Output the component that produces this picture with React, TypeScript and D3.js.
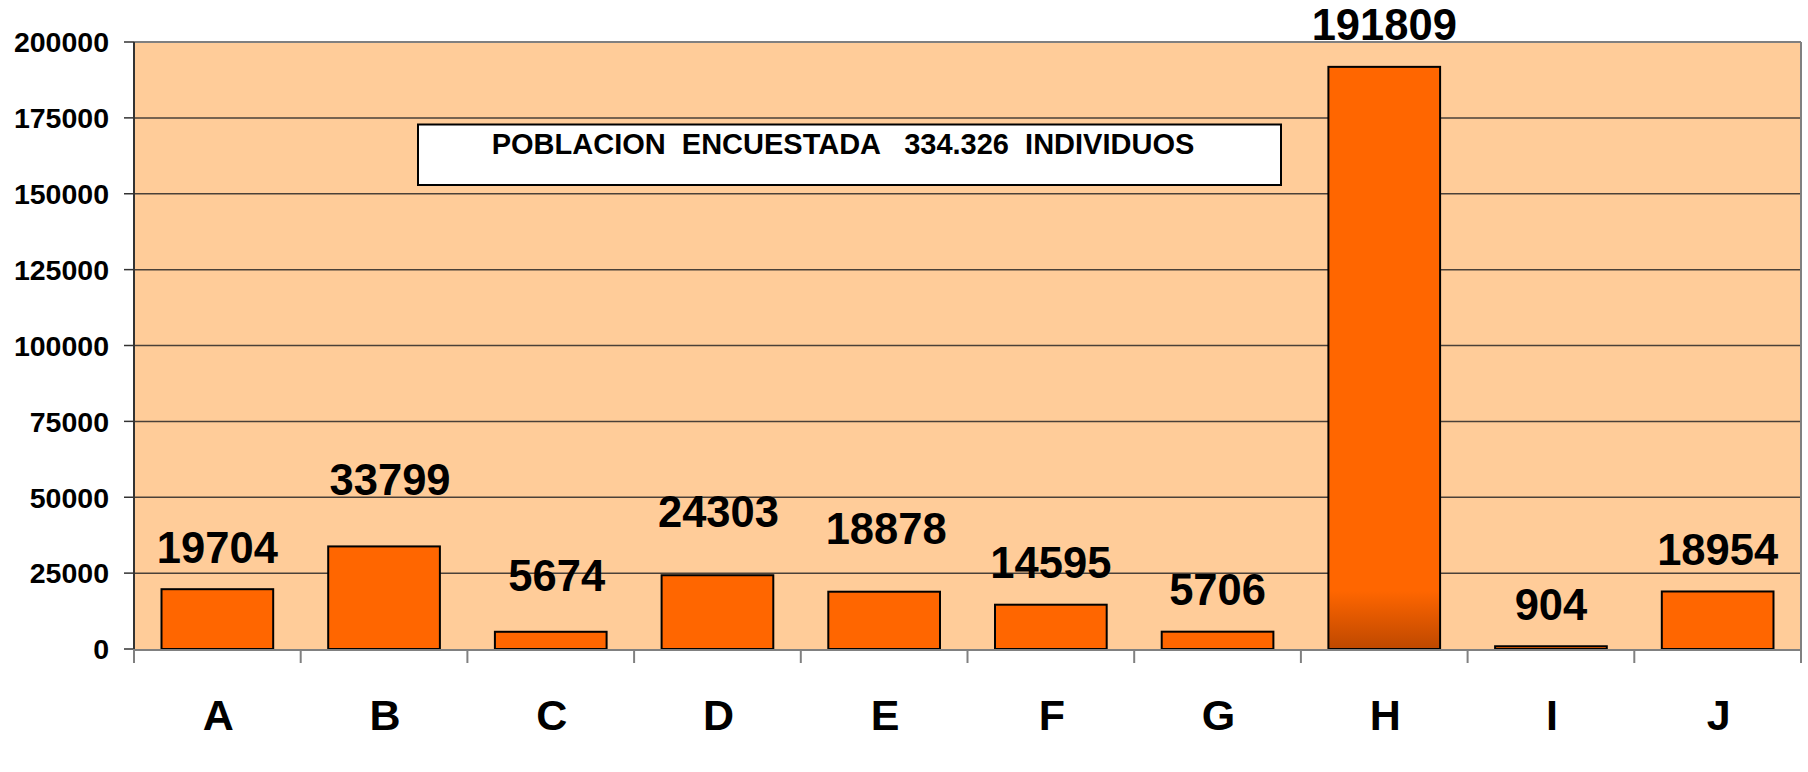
import React from "react";
import * as d3 from "d3";

const categories = ["A", "B", "C", "D", "E", "F", "G", "H", "I", "J"];
const values = [19704, 33799, 5674, 24303, 18878, 14595, 5706, 191809, 904, 18954];
const yTicks = [0, 25000, 50000, 75000, 100000, 125000, 150000, 175000, 200000];
const boxText = "POBLACION  ENCUESTADA   334.326  INDIVIDUOS";
// manual label nudges (px) as placed in the original chart
const labelNudgeX = [0, 6, 6, 1, 2, 0, 0, 0, 0, 0];
const labelNudgeY = [0, -25, -14, -22, -21, 0, 0, 0, 0, 0];

const W = 1808;
const H = 772;
const left = 134;
const right = 1801;
const top = 42;
const bottom = 649;
const font = "'Liberation Sans', Arial, sans-serif";

export default function App() {
  const x = d3.scaleBand<string>().domain(categories).range([left, right]).paddingInner(0.33).paddingOuter(0.165);
  const xb = d3.scaleBand<string>().domain(categories).range([left, right]);
  const y = d3.scaleLinear().domain([0, 200000]).range([bottom, top]);

  return (
    <svg width={W} height={H} style={{ position: "absolute", left: 0, top: 0 }} fontFamily={font}>
      <defs>
        <linearGradient id="hgrad" x1="0" y1="0" x2="0" y2="1">
          <stop offset="0" stopColor="#FF6600" />
          <stop offset="0.9" stopColor="#FF6600" />
          <stop offset="1" stopColor="#BE4800" />
        </linearGradient>
      </defs>
      <rect x={0} y={0} width={W} height={H} fill="#fff" />
      <rect x={left} y={top} width={right - left} height={bottom - top} fill="#FFCC99" />
      {yTicks.slice(1, -1).map((t) => (
        <line key={t} x1={left} x2={right} y1={y(t)} y2={y(t)} stroke="#4a4038" strokeWidth={1.5} />
      ))}
      {/* plot border */}
      <line x1={left} x2={right} y1={top} y2={top} stroke="#808080" strokeWidth={2} />
      <line x1={right} x2={right} y1={top} y2={bottom} stroke="#808080" strokeWidth={2} />
      {/* y ticks & labels */}
      {yTicks.map((t) => (
        <g key={t}>
          <line x1={124} x2={left} y1={y(t)} y2={y(t)} stroke="#333" strokeWidth={1.5} />
          <text x={109} y={y(t)} dy="0.36em" textAnchor="end" fontSize={28.5} fontWeight="bold">
            {t}
          </text>
        </g>
      ))}
      {/* bars */}
      {categories.map((c, i) => (
        <rect
          key={c}
          x={x(c)!}
          width={x.bandwidth()}
          y={y(values[i])}
          height={bottom - y(values[i])}
          fill={c === "H" ? "url(#hgrad)" : "#FF6600"}
          stroke="#000"
          strokeWidth={2}
        />
      ))}
      {/* axes lines */}
      <line x1={left} x2={left} y1={top} y2={bottom + 1} stroke="#333" strokeWidth={2} />
      <line x1={left} x2={right} y1={bottom + 1} y2={bottom + 1} stroke="#808080" strokeWidth={2} />
      {[...categories, "_end"].map((c, i) => (
        <line
          key={c}
          x1={left + i * xb.bandwidth()}
          x2={left + i * xb.bandwidth()}
          y1={bottom}
          y2={663}
          stroke="#808080"
          strokeWidth={2}
        />
      ))}
      {/* category labels */}
      {categories.map((c) => (
        <text key={c} x={xb(c)! + xb.bandwidth() / 2 + 1} y={730} textAnchor="middle" fontSize={43} fontWeight="bold">
          {c}
        </text>
      ))}
      {/* value labels */}
      {categories.map((c, i) => (
        <text
          key={c}
          x={xb(c)! + xb.bandwidth() / 2 + labelNudgeX[i]}
          y={y(values[i]) - 26.5 + labelNudgeY[i]}
          textAnchor="middle"
          fontSize={43.5}
          fontWeight="bold"
        >
          {values[i]}
        </text>
      ))}
      {/* text box */}
      <rect x={418} y={124.5} width={863} height={60.5} fill="#fff" stroke="#000" strokeWidth={2} />
      <text x={843} y={154.3} textAnchor="middle" fontSize={29} fontWeight="bold" style={{ whiteSpace: "pre" }}>
        {boxText}
      </text>
    </svg>
  );
}
